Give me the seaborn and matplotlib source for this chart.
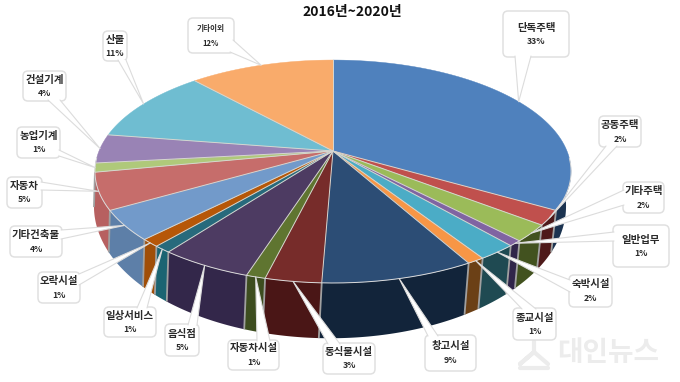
import numpy as np
import matplotlib
matplotlib.use("Agg")
import matplotlib.pyplot as plt
from matplotlib.patches import FancyBboxPatch
import seaborn as sns

title = "2016년~2020년"
categories = ["단독주택", "공동주택", "기타주택", "일반업무", "숙박시설", "종교시설", "창고시설",
              "동식물시설", "자동차시설", "음식점", "일상서비스", "오락시설", "기타건축물",
              "자동차", "농업기계", "건설기계", "산불", "기타이외"]
percent_labels = [33, 2, 2, 1, 2, 1, 9, 3, 1, 5, 1, 1, 4, 5, 1, 4, 11, 12]
# slice shares (labels above are rounded)
shares = [33.3, 2.1, 2.4, 0.8, 2.25, 1.0, 8.7, 3.2, 1.1, 5.3, 1.0, 1.1, 4.3, 5.3, 1.3, 4.2, 10.8, 11.7]

top_colors = sns.color_palette(["#4F81BD", "#C0504D", "#9BBB59", "#8064A2", "#4BACC6", "#F79646",
                                "#2C4D75", "#772C2A", "#5F7530", "#4D3B62", "#276A7C", "#B65708",
                                "#729ACA", "#C66D6B", "#AFC97A", "#9983B5", "#6FBDD1", "#F9AB6B"])
wall_colors = sns.color_palette(["#1B3350", "#4E1A1A", "#42521F", "#30254A", "#1F4A52", "#6B4016",
                                 "#12243A", "#4A1616", "#3D4D1F", "#33274A", "#1B6472", "#A04E08",
                                 "#5D7FA8", "#B76060", "#8FA860", "#7A6895", "#4F9DB0", "#D08A50"])

# callout layout: box (x0, y0, x1, y1), pointer base (two points), label font size
boxes = [
    (503, 11, 569, 57, (515, 56), (531, 56), 7.5),
    (599, 116, 641, 147, (606, 146), (617, 146), 7.5),
    (623, 182, 664, 213, (624, 190), (624, 205), 7.5),
    (613, 225, 669, 267, (614, 232), (614, 241), 7.5),
    (569, 275, 612, 307, (570, 280), (570, 292), 7.5),
    (513, 308, 556, 340, (522, 309), (536, 309), 7.5),
    (425, 335, 476, 371, (428, 336), (438, 336), 7.5),
    (323, 343, 375, 374, (328, 344), (340, 344), 7.5),
    (228, 340, 279, 370, (257, 341), (270, 341), 7.5),
    (165, 324, 199, 356, (188, 325), (197, 325), 7.5),
    (104, 307, 156, 337, (137, 308), (147, 308), 7.5),
    (38, 272, 80, 303, (79, 274), (79, 285), 7.5),
    (10, 226, 62, 257, (61, 230), (61, 239), 7.5),
    (7, 177, 42, 208, (41, 182), (41, 190), 7.5),
    (17, 127, 60, 158, (59, 150), (59, 156), 7.5),
    (23, 71, 66, 101, (48, 100), (60, 100), 7.5),
    (103, 31, 127, 61, (118, 60), (126, 60), 7.5),
    (188, 18, 234, 53, (233, 40), (230, 52), 5.5),
]

sns.set_theme(style="white")
plt.rcParams["font.family"] = ["Noto Sans CJK KR", "DejaVu Sans"]

fig = plt.figure(figsize=(6.8, 3.82), dpi=100, facecolor="white")
ax = fig.add_axes([0, 0, 1, 1])
ax.set_xlim(0, 680)
ax.set_ylim(382, 0)
ax.axis("off")

K = 0.184


def rim(theta, x0, y0, a, b):
    X, Y = np.cos(theta), np.sin(theta)
    d = 1 + K * Y
    return x0 + a * X / d, y0 - b * Y / d


def top(theta):
    return rim(theta, 333, 151, 234, 107.7)


def bottom(theta):
    return rim(theta, 330, 182, 232, 127.5)


vals = np.array(shares, dtype=float)
edges = np.pi / 2 - np.concatenate([[0], np.cumsum(vals)]) / vals.sum() * 2 * np.pi
apex = (333, 151)

# side walls (only the part of the rim that faces the viewer)
for i in range(len(vals)):
    th = np.linspace(edges[i], edges[i + 1], 200)
    th = th[np.sin(th) < -0.1]
    if len(th) < 2:
        continue
    tx, ty = top(th)
    bx, by = bottom(th)
    ax.fill(np.r_[tx, bx[::-1]], np.r_[ty, by[::-1]], color=wall_colors[i], lw=0, zorder=2)

for e in edges[:-1]:
    if np.sin(e) < -0.15:
        tx, ty = top(e)
        bx, by = bottom(e)
        ax.plot([tx, bx], [ty, by], color="#A0A0A0", lw=1.3, zorder=3, solid_capstyle="butt")

# top faces
for i in range(len(vals)):
    th = np.linspace(edges[i], edges[i + 1], 80)
    tx, ty = top(th)
    ax.fill(np.r_[apex[0], tx], np.r_[apex[1], ty], facecolor=top_colors[i],
            edgecolor=top_colors[i], lw=0.3, zorder=4)

# radial separators and the light front rim
for e in edges:
    tx, ty = top(e)
    ax.plot([apex[0], tx], [apex[1], ty], color="#D6D6D0", lw=0.7, zorder=5)
front = np.linspace(-np.pi * 0.98, -0.02 * np.pi, 300)
fx, fy = top(front)
ax.plot(fx, fy, color="#DADADA", lw=0.7, zorder=5)

# callouts
for i, (x0, y0, x1, y1, p, q, fs) in enumerate(boxes):
    mid = (edges[i] + edges[i + 1]) / 2
    tipx, tipy = top(mid)
    ax.add_patch(FancyBboxPatch((x0 + 4, y0 + 4), x1 - x0 - 8, y1 - y0 - 8,
                                boxstyle="round,pad=4,rounding_size=5",
                                facecolor="white", edgecolor="#E0E0E0", lw=1.1, zorder=6))
    ax.fill([p[0], tipx, q[0]], [p[1], tipy, q[1]], color="white", lw=0, zorder=7)
    ax.plot([p[0], tipx, q[0]], [p[1], tipy, q[1]], color="#DCDCDC", lw=0.8, zorder=7)
    cy = (y0 + y1) / 2
    cx = (x0 + x1) / 2
    ax.text(cx, cy - 6.5, categories[i], ha="center", va="center", fontsize=fs,
            color="#2A2A2A", fontweight="bold", zorder=8)
    ax.text(cx, cy + 7.5, f"{percent_labels[i]}%", ha="center", va="center",
            fontsize=6.2 if fs > 7 else 5.5, color="#2A2A2A", fontweight="bold", zorder=8)

ax.text(352, 12, title, ha="center", va="center", fontsize=10, fontweight="bold", color="#111111", zorder=8)

# faint watermark
ax.text(608, 353, "대인뉴스", ha="center", va="center", fontsize=20, fontweight="bold",
        color="#ECECEC", zorder=1)
ax.plot([534, 534, 520, 534, 548], [341, 352, 364, 352, 364], color="#ECECEC", lw=3, zorder=1)
ax.plot([520, 548], [368, 368], color="#ECECEC", lw=3, zorder=1)

fig.savefig("out.png", dpi=100, facecolor="white")
